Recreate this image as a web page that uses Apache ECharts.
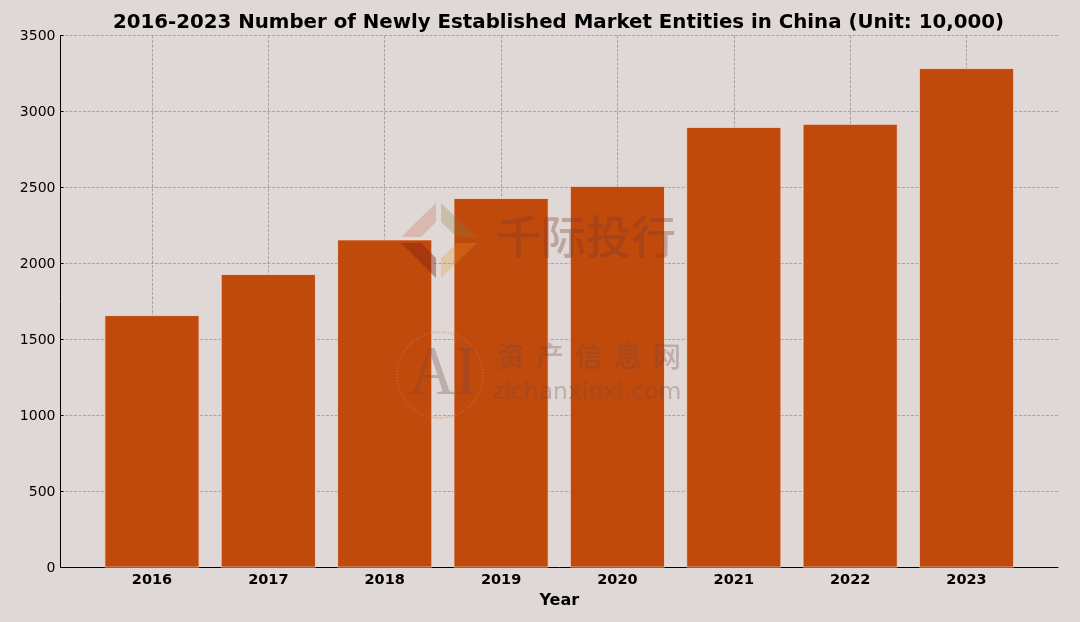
<!DOCTYPE html>
<html>
<head>
<meta charset="utf-8">
<title>chart</title>
<style>
html, body { margin: 0; padding: 0; background: #e0d8d6; }
#main { width: 1080px; height: 622px; }
</style>
</head>
<body>
<div id="main"></div>
<script src="https://cdn.jsdelivr.net/npm/echarts@6/dist/echarts.min.js"></script>
<script>
var years = [2016, 2017, 2018, 2019, 2020, 2021, 2022, 2023];
var entities = [1660, 1930, 2158, 2430, 2510, 2898, 2918, 3285];
var yTicks = [0, 500, 1000, 1500, 2000, 2500, 3000, 3500];

var font = '"DejaVu Sans"';
var cjk = '"Noto Sans CJK SC"';
var markText = 'rgba(110,70,70,0.3)';
var gridLine = { show: true, lineStyle: { color: '#928a88', width: 0.7, type: [3, 1.5] } };

// watermark over the bars
function mark(points, color) {
    return { type: 'polygon', z: 100, silent: true, shape: { points: points }, style: { fill: color } };
}
function label(text, x, y, fontStr, color, extra) {
    var el = {
        type: 'text', z: 101, silent: true, x: x, y: y,
        style: { text: text, font: fontStr, fill: color, textVerticalAlign: 'middle' }
    };
    return Object.assign(el, extra || {});
}
var watermark = [
    mark([[401, 237], [436, 203], [436, 222], [421, 237]], 'rgba(190,90,60,0.25)'),
    mark([[441, 203], [477, 237], [457, 237], [441, 222]], 'rgba(135,125,60,0.28)'),
    mark([[401, 243], [421, 243], [436, 258], [436, 278]], 'rgba(130,30,20,0.4)'),
    mark([[441, 278], [441, 258], [457, 243], [477, 243]], 'rgba(230,150,40,0.28)'),
    label('千际投行', 496, 237, '500 45px ' + cjk, 'rgba(120,55,50,0.33)'),
    label('zichanxinxi.com', 492, 393, '23.5px ' + font, markText),
    label('AI', 409, 376, '64px "Liberation Serif"', markText, { scaleY: 1.1 }),
    {
        type: 'circle', z: 100, silent: true,
        shape: { cx: 440, cy: 375, r: 43 },
        style: { fill: 'none', stroke: 'rgba(205,120,60,0.55)', lineWidth: 2, lineDash: [1, 2] }
    }
];
'资产信息网'.split('').forEach(function (ch, i) {
    watermark.push(label(ch, 497 + i * 39, 356, '500 28px ' + cjk, markText));
});

var chart = echarts.init(document.getElementById('main'));
chart.setOption({
    animation: false,
    backgroundColor: '#e0d8d6',
    title: {
        text: '2016-2023 Number of Newly Established Market Entities in China (Unit: 10,000)',
        left: 553.5, top: 8, textAlign: 'center',
        textStyle: { fontFamily: font, fontSize: 19.8, fontWeight: 'bold', color: '#000' }
    },
    grid: { left: 60.5, right: 22, top: 35.5, bottom: 54.5 },
    xAxis: {
        type: 'value',
        min: 2015.214, max: 2023.786,
        name: 'Year', nameLocation: 'middle', nameGap: 24,
        nameTextStyle: { fontFamily: font, fontSize: 16, fontWeight: 'bold', color: '#000' },
        axisLine: { show: true, lineStyle: { color: '#000', width: 1 } },
        axisTick: { show: false, customValues: years },
        axisLabel: {
            customValues: years,
            fontFamily: font, fontSize: 14.5, fontWeight: 'bold', color: '#000', margin: 5,
            formatter: function (v) { return String(v); }
        },
        splitLine: gridLine
    },
    yAxis: {
        type: 'value',
        min: yTicks[0], max: yTicks[yTicks.length - 1], interval: 500,
        axisLine: { show: true, onZero: false, lineStyle: { color: '#000', width: 1 } },
        axisTick: { show: true, inside: true, length: 3, lineStyle: { color: '#000', width: 1 } },
        axisLabel: {
            fontFamily: font, fontSize: 14, color: '#000', margin: 5, padding: [2, 0, 0, 0],
            formatter: function (v) { return '{t|' + v + '}'; },
            rich: { t: { fontFamily: font, fontSize: 14, color: '#000' } }
        },
        splitLine: gridLine
    },
    series: [{
        type: 'bar',
        barWidth: 95,
        itemStyle: { color: '#c0490c', borderColor: '#f0dcd0', borderWidth: 0.8 },
        data: years.map(function (y, i) { return [y, entities[i]]; })
    }],
    graphic: { elements: watermark }
});
</script>
</body>
</html>
